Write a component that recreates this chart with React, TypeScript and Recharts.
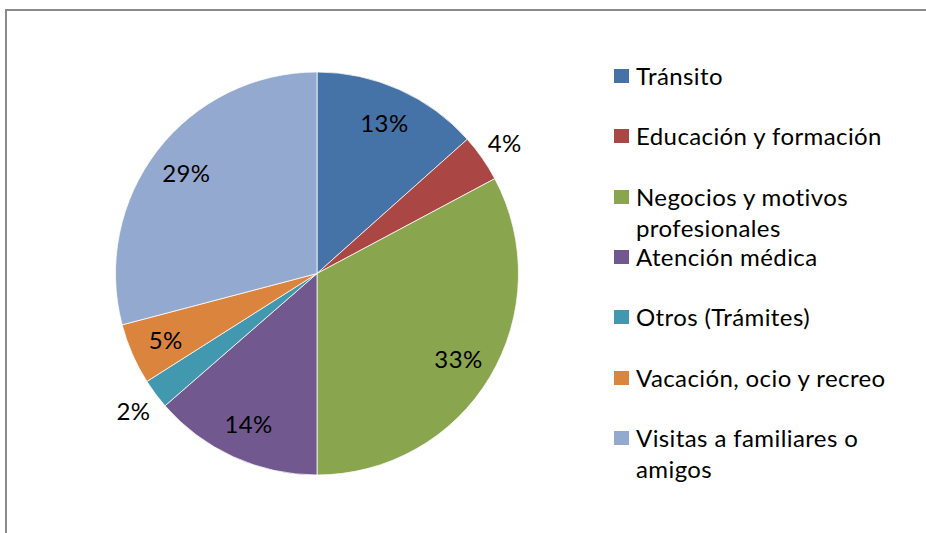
import React from "react";
import { PieChart, Pie, Cell } from "recharts";

const categories = [
  "Tránsito",
  "Educación y formación",
  "Negocios y motivos profesionales",
  "Atención médica",
  "Otros (Trámites)",
  "Vacación, ocio y recreo",
  "Visitas a familiares o amigos",
];
const legendLines = [
  ["Tránsito"],
  ["Educación y formación"],
  ["Negocios y motivos", "profesionales"],
  ["Atención médica"],
  ["Otros (Trámites)"],
  ["Vacación, ocio y recreo"],
  ["Visitas a familiares o", "amigos"],
];
const values = [13.4, 3.8, 32.8, 13.6, 2.4, 4.9, 29.1];
const colors = ["#4572A7", "#AA4643", "#89A54E", "#71588F", "#4198AF", "#DB843D", "#93A9CF"];

const data = categories.map((name, i) => ({ name, value: values[i] }));

const FONT = "Lato, 'Open Sans', sans-serif";
const FS = 24;
const LS = 0.4;
const RAD = Math.PI / 180;

const renderLabel = (props: any) => {
  const { cx, cy, midAngle, percent } = props;
  const r = percent < 0.045 ? 229 : 165;
  const x = cx + r * Math.cos(-midAngle * RAD);
  const y = cy + r * Math.sin(-midAngle * RAD);
  return (
    <text
      x={x}
      y={y}
      textAnchor="middle"
      dominantBaseline="central"
      fill="#000"
      fontFamily={FONT}
      fontSize={FS}
      letterSpacing={LS}
    >
      {`${Math.round(percent * 100)}%`}
    </text>
  );
};

function LegendBox() {
  return (
    <div style={{ position: "absolute", left: 614, top: 60, fontFamily: FONT, fontSize: FS, letterSpacing: LS, color: "#000" }}>
      {legendLines.map((lines, i) => (
        <div key={categories[i]} style={{ position: "absolute", left: 0, top: i * 60.3, whiteSpace: "nowrap" }}>
          <div style={{ position: "absolute", left: 0, top: 9, width: 15, height: 14, background: colors[i] }} />
          {lines.map((ln, j) => (
            <div key={j} style={{ position: "absolute", left: 22, top: j * 31, lineHeight: "31px", height: 31 }}>
              {ln}
            </div>
          ))}
        </div>
      ))}
    </div>
  );
}

export default function App() {
  return (
    <div style={{ position: "fixed", left: 0, top: 0, width: 926, height: 533, overflow: "hidden", background: "#fff" }}>
      <div style={{ position: "absolute", left: 5, top: 9, width: 921, height: 2, background: "#8a8a8a" }} />
      <div style={{ position: "absolute", left: 5, top: 9, width: 2, height: 524, background: "#8a8a8a" }} />
      <div style={{ position: "absolute", left: 0, top: 0 }}>
        <PieChart width={926} height={533} margin={{ top: 0, right: 0, bottom: 0, left: 0 }}>
          <Pie
            data={data}
            dataKey="value"
            nameKey="name"
            cx={317}
            cy={273.5}
            outerRadius={201.5}
            startAngle={90}
            endAngle={-270}
            stroke="#ffffff"
            strokeWidth={0.75}
            label={renderLabel}
            labelLine={false}
            isAnimationActive={false}
          >
            {data.map((d, i) => (
              <Cell key={d.name} fill={colors[i]} />
            ))}
          </Pie>
        </PieChart>
      </div>
      <LegendBox />
    </div>
  );
}
